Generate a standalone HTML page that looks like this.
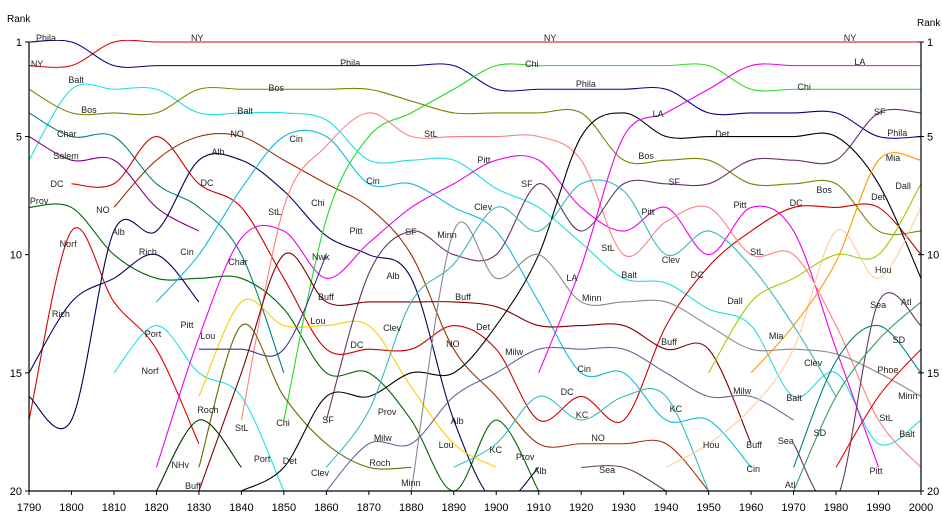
<!DOCTYPE html>
<html><head><meta charset="utf-8"><style>
html,body{margin:0;padding:0;background:#fff;}
svg{display:block;font-family:"Liberation Sans",Arial,sans-serif;}
</style></head><body>
<svg id="chart" width="942" height="516" viewBox="0 0 942 516" xmlns="http://www.w3.org/2000/svg">
<defs><clipPath id="plotclip"><rect x="29" y="40" width="893" height="451"/></clipPath></defs>
<g id="series" clip-path="url(#plotclip)"></g>
<g id="axes"></g>
<g id="labels"></g>
</svg>
<script>
const years = [1790,1800,1810,1820,1830,1840,1850,1860,1870,1880,1890,1900,1910,1920,1930,1940,1950,1960,1970,1980,1990,2000];
const yTicks = [1,5,10,15,20];
const _ = null;
const NY    = [2,2,1,1,1,1,1,1,1,1,1,1,1,1,1,1,1,1,1,1,1,1];
const Phila = [1,1,2,2,2,2,2,2,2,2,2,3,3,3,3,3,4,4,4,4,5,5];
const Balt  = [6,3,3,3,4,4,4,4.3,6,6,6,7.2,8,9.5,11,11.2,12.3,13,16,15,18,17];
const Bos   = [3,4,4,4,3,3,3,3,3,3.5,4,4,4,4,6,6,6,7,7,7,9,9];
const Char  = [4,5,5,7,8,10,15,_,_,_,_,_,_,_,_,_,_,_,_,_,_,_];
const Salem = [5,6,6,8,9,_,_,_,_,_,_,_,_,_,_,_,_,_,_,_,_,_];
const DC    = [_,7,7,5,7,8,11,14,14,14,13,14,17,16,17,13,10.5,9,8,8,8,10];
const Prov  = [8,8,10,11,11,11,12.3,15,15,17,20,17,20,_,_,_,_,_,_,_,_,_];
const NO    = [_,_,8,6,5,5,6,7,8,10,14,16,18,18,18,18,20,_,_,_,_,_];
const Norf  = [17,9,12,14,18,_,_,_,_,_,_,_,_,_,_,_,_,_,_,_,_,_];
const Rich  = [15,12,11,10,12,_,_,_,_,_,_,_,_,_,_,_,_,_,_,_,_,_];
const Alb   = [16,17,9,9,6,6,7.3,9.2,10,11,17,20.5,19,_,_,_,_,_,_,_,_,_];
const Cin   = [_,_,_,12,10,7.2,5,5,7,7,8,9,12,15,15,17,17,19,_,_,_,_];
const Port  = [_,_,15,13,15,16,20,_,_,_,_,_,_,_,_,_,_,_,_,_,_,_];
const Pitt  = [_,_,_,19,13.5,9.3,9,11,9.5,8,7,6,6,8,9,8,10,8,9,14,19,_];
const Lou   = [_,_,_,_,16,12,13,13,13,15.6,18,19,_,_,_,_,_,_,_,_,_,_];
const StL   = [_,_,_,_,_,17,8,5.4,4,5,5,5,5,6,10,8.6,8,10,10,13,17,19];
const Chi   = [_,_,_,_,_,_,17,8.5,5,4,3,2,2,2,2,2,2,3,3,3,3,3];
const Nwk   = [_,_,_,_,14,14,14,10,_,_,_,_,_,_,_,_,_,_,_,_,_,_];
const SF    = [_,_,_,_,_,_,_,17,10.8,9,10,10,7,9,7,7,7,6,6,6,4,4];
const Buff  = [_,_,_,_,20,15,10,12,12,12,12,12.2,13,13,13,14,14,18,_,_,_,_];
const Roch  = [_,_,_,_,19,13,16,18,19,19,_,_,_,_,_,_,_,_,_,_,_,_];
const NHv   = [_,_,_,20,17,19,_,_,_,_,_,_,_,_,_,_,_,_,_,_,_,_];
const Det   = [_,_,_,_,_,20,19,16,16,15,15,13,10,5,4,5,5,5,5,5,7,11];
const Clev  = [_,_,_,_,_,_,_,19,16.6,12,10.4,8,9,7,7.3,10,9,10.5,13,16,_,_];
const Milw  = [_,_,_,_,_,_,_,20,18,18,16,15,14,14,14,15,16,16,17,_,_,_];
const Minn  = [_,_,_,_,_,_,_,_,_,20,9,11,10,12,12,12,13,14,14,14.2,15,16];
const KC    = [_,_,_,_,_,_,_,_,_,_,19,18,16,17,16,16,20,_,_,_,_,_];
const LA    = [_,_,_,_,_,_,_,_,_,_,_,_,15,10.5,5,4,3,2,2,2,2,2];
const Sea   = [_,_,_,_,_,_,_,_,_,_,_,_,_,19,19,20,_,_,18,20.4,12,13];
const Hou   = [_,_,_,_,_,_,_,_,_,_,_,_,_,_,_,19,18,16.5,14,9,11,8];
const Dall  = [_,_,_,_,_,_,_,_,_,_,_,_,_,_,_,_,15,12,11,10,10,7];
const Mia   = [_,_,_,_,_,_,_,_,_,_,_,_,_,_,_,_,_,15,13,10.3,6,6];
const SD    = [_,_,_,_,_,_,_,_,_,_,_,_,_,_,_,_,_,_,19,14.5,13,15];
const Atl   = [_,_,_,_,_,_,_,_,_,_,_,_,_,_,_,_,_,_,20,16,13.6,12];
const Phoe  = [_,_,_,_,_,_,_,_,_,_,_,_,_,_,_,_,_,_,_,19,16,14];

const seriesNames = ["NY","Phila","Balt","Bos","Char","Salem","DC","Prov","NO","Norf","Rich","Alb","Cin","Port","Pitt","Lou","StL","Chi","Nwk","SF","Buff","Roch","NHv","Det","Clev","Milw","Minn","KC","LA","Sea","Hou","Dall","Mia","SD","Atl","Phoe"];
const seriesValues = [NY,Phila,Balt,Bos,Char,Salem,DC,Prov,NO,Norf,Rich,Alb,Cin,Port,Pitt,Lou,StL,Chi,Nwk,SF,Buff,Roch,NHv,Det,Clev,Milw,Minn,KC,LA,Sea,Hou,Dall,Mia,SD,Atl,Phoe];
const seriesColors = ["#dd0000","#000080","#22dddd","#808000","#008080","#800080","#cc0000","#006600","#993300","#dd0000","#000066","#000050","#11bbdd","#22e0e8","#ee00ee","#ffcc00","#ff8080","#22dd22","#333399","#663366","#800000","#666600","#003300","#000000","#33bbbb","#666699","#888888","#33bbbb","#ee00ee","#663366","#ffcc99","#99cc00","#ff9900","#008080","#339966","#ee0000"];

// label annotations: [text, year, rank]
const labelDefs = [
["Phila",1794.0,0.83],["NY",1829.6,0.83],["NY",1912.7,0.83],["NY",1983.3,0.83],["NY",1791.9,1.93],
["Phila",1865.6,1.89],["Chi",1908.4,1.93],["LA",1985.6,1.85],["Balt",1801.1,2.61],["Bos",1848.2,2.95],
["Phila",1921.1,2.78],["Chi",1972.5,2.9],["Bos",1804.1,3.88],["Balt",1840.9,3.92],["LA",1938.1,4.05],
["SF",1990.3,3.96],["Char",1798.9,4.89],["NO",1839.0,4.89],["Cin",1852.9,5.1],["StL",1884.6,4.89],
["Det",1953.2,4.89],["Phila",1994.4,4.85],["Salem",1798.7,5.82],["Alb",1834.5,5.65],["Bos",1935.3,5.82],
["Mia",1993.4,5.91],["DC",1796.6,7.01],["DC",1831.9,6.97],["Cin",1871.0,6.88],["Pitt",1897.1,5.99],
["SF",1907.2,7.01],["SF",1941.9,6.92],["Bos",1977.2,7.26],["Det",1989.9,7.56],["Dall",1995.8,7.09],
["Prov",1792.4,7.73],["NO",1807.4,8.11],["StL",1847.9,8.19],["Chi",1858.0,7.81],["Pitt",1935.7,8.19],
["Pitt",1957.4,7.9],["DC",1970.6,7.81],["Alb",1811.0,9.04],["Pitt",1867.0,9.0],["SF",1879.9,9.04],
["Clev",1896.9,7.98],["Minn",1888.4,9.17],["Norf",1799.2,9.55],["Rich",1818.0,9.89],["Cin",1827.2,9.89],
["Nwk",1858.7,10.1],["StL",1926.3,9.72],["Clev",1941.1,10.23],["StL",1961.4,9.89],["Char",1839.2,10.31],
["Alb",1875.7,10.9],["LA",1917.8,10.99],["Balt",1931.3,10.86],["DC",1947.3,10.86],["Hou",1991.1,10.65],
["Rich",1797.5,12.51],["Buff",1859.9,11.79],["Buff",1892.2,11.79],["Minn",1922.5,11.83],["Dall",1956.2,11.96],
["Atl",1996.5,12.0],["Sea",1989.9,12.13],["Pitt",1827.2,12.98],["Port",1819.2,13.36],["Lou",1832.1,13.44],
["Lou",1858.0,12.81],["Clev",1875.5,13.1],["Det",1896.9,13.06],["Buff",1940.7,13.7],["Mia",1965.9,13.44],
["SD",1994.8,13.61],["DC",1867.2,13.82],["NO",1889.8,13.78],["Milw",1904.2,14.12],["Clev",1974.6,14.58],
["Phoe",1992.2,14.88],["Norf",1818.5,14.92],["Cin",1920.7,14.84],["Milw",1957.9,15.77],["Balt",1970.1,16.07],
["Minn",1996.9,15.98],["DC",1916.7,15.81],["KC",1920.2,16.79],["KC",1942.3,16.53],["Prov",1874.3,16.66],
["Alb",1890.8,17.04],["Roch",1832.1,16.57],["StL",1840.1,17.33],["Chi",1849.8,17.12],["SF",1860.4,17.0],
["StL",1991.8,16.91],["Balt",1996.7,17.59],["NO",1924.0,17.76],["Hou",1950.6,18.06],["Buff",1960.7,18.06],
["Sea",1968.2,17.89],["SD",1976.2,17.55],["Milw",1873.3,17.76],["Lou",1888.2,18.06],["KC",1899.9,18.27],
["Port",1844.9,18.65],["Det",1851.4,18.73],["NHv",1825.6,18.9],["Clev",1858.5,19.24],["Roch",1872.6,18.82],
["Prov",1906.8,18.56],["Alb",1910.3,19.16],["Sea",1926.1,19.11],["Cin",1960.5,19.07],["Pitt",1989.4,19.16],
["Atl",1969.2,19.75],["Buff",1828.6,19.79],["Minn",1879.9,19.66]
];

const X0 = 29, X1 = 921, Y0 = 42, Y1 = 491;
function xScale(yr){ return X0 + (yr - 1790) / 210 * (X1 - X0); }
function yScale(r){ return Y0 + (r - 1) / 19 * (Y1 - Y0); }

const NS = "http://www.w3.org/2000/svg";
const gS = document.getElementById("series");
const gA = document.getElementById("axes");
const gL = document.getElementById("labels");

function smoothPath(pts){
  if (pts.length < 2) return "";
  let d = "M" + pts[0][0].toFixed(2) + "," + pts[0][1].toFixed(2);
  for (let i = 0; i < pts.length - 1; i++){
    const p0 = pts[i - 1] || pts[i], p1 = pts[i], p2 = pts[i + 1], p3 = pts[i + 2] || pts[i + 1];
    const c1x = p1[0] + (p2[0] - p0[0]) / 6, c1y = p1[1] + (p2[1] - p0[1]) / 6;
    const c2x = p2[0] - (p3[0] - p1[0]) / 6, c2y = p2[1] - (p3[1] - p1[1]) / 6;
    d += " C" + c1x.toFixed(2) + "," + c1y.toFixed(2) + " " + c2x.toFixed(2) + "," + c2y.toFixed(2) + " " + p2[0].toFixed(2) + "," + p2[1].toFixed(2);
  }
  return d;
}

seriesValues.forEach(function(vals, si){
  let seg = [];
  const segs = [];
  vals.forEach(function(v, i){
    if (v === null) { if (seg.length) segs.push(seg); seg = []; }
    else seg.push([xScale(years[i]), yScale(v)]);
  });
  if (seg.length) segs.push(seg);
  segs.forEach(function(s){
    const p = document.createElementNS(NS, "path");
    p.setAttribute("d", smoothPath(s));
    p.setAttribute("fill", "none");
    p.setAttribute("stroke", seriesColors[si]);
    p.setAttribute("stroke-width", "1.1");
    
    
    gS.appendChild(p);
  });
});

function mk(tag, attrs, parent){
  const e = document.createElementNS(NS, tag);
  for (const k in attrs) e.setAttribute(k, attrs[k]);
  parent.appendChild(e);
  return e;
}

const la = mk("line", {x1:X0, y1:Y0, x2:X0, y2:Y1, stroke:"#000", "stroke-width":"1.2"}, gA);


const ra = mk("line", {x1:X1, y1:Y0, x2:X1, y2:Y1, stroke:"#000", "stroke-width":"1.2"}, gA);


const ba = mk("line", {x1:X0, y1:Y1, x2:X1, y2:Y1, stroke:"#000", "stroke-width":"1.2"}, gA);



yTicks.forEach(function(t){
  const y = yScale(t);
  mk("line", {x1:X0-4, y1:y, x2:X0, y2:y, stroke:"#000"}, gA);
  mk("line", {x1:X1-3, y1:y, x2:X1+3, y2:y, stroke:"#000"}, gA);
  const tl = mk("text", {x:X0-7, y:y+4, "text-anchor":"end", "font-size":"11", fill:"#000"}, gA);
  tl.textContent = t;
  
  
  const tr = mk("text", {x:X1+6, y:y+4, "text-anchor":"start", "font-size":"11", fill:"#000"}, gA);
  tr.textContent = t;
  
  
});

years.forEach(function(yr){
  const x = xScale(yr);
  mk("line", {x1:x, y1:Y1, x2:x, y2:Y1+4, stroke:"#000"}, gA);
  const t = mk("text", {x:x, y:511, "text-anchor":"middle", "font-size":"11", fill:"#000"}, gA);
  t.textContent = yr;
  
  
});

const r1 = mk("text", {x:7, y:22, "font-size":"10", fill:"#000"}, gA);
r1.textContent = "Rank";


const r2 = mk("text", {x:917, y:26, "font-size":"10", fill:"#000"}, gA);
r2.textContent = "Rank";



labelDefs.forEach(function(ld){
  const t = mk("text", {x:xScale(ld[1]), y:yScale(ld[2]) + 3, "text-anchor":"middle", "font-size":"9", fill:"#222"}, gL);
  t.textContent = ld[0];
  
  
});
</script>
</body></html>
